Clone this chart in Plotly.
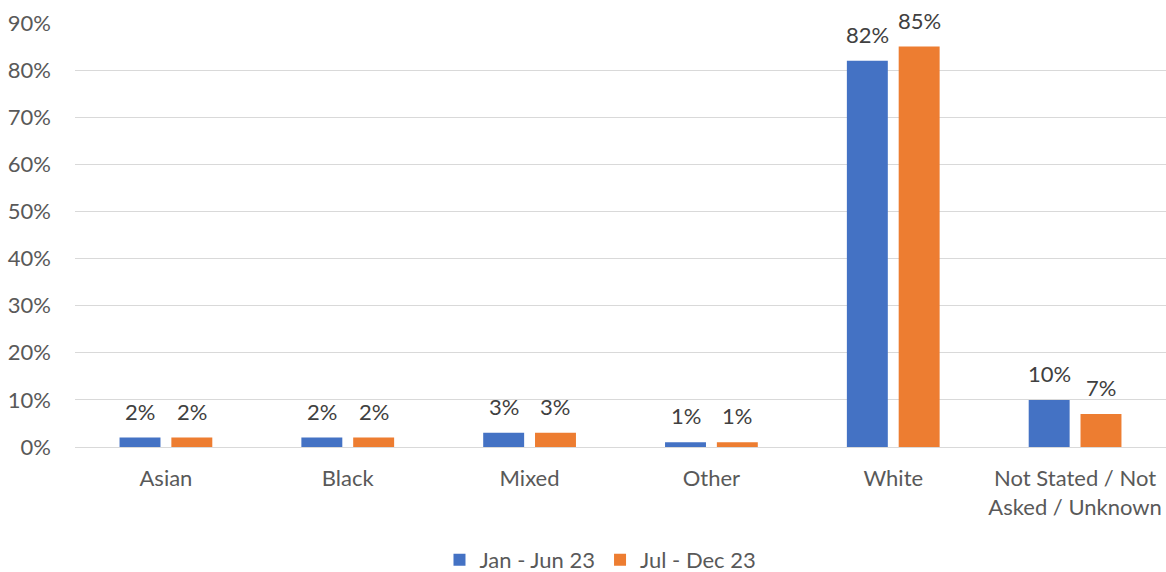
import plotly.graph_objects as go

categories = ["Asian", "Black", "Mixed", "Other", "White", "Not Stated / Not<br>Asked / Unknown"]
jan_jun_23 = [2, 2, 3, 1, 82, 10]
jul_dec_23 = [2, 2, 3, 1, 85, 7]
y_ticks = [0, 10, 20, 30, 40, 50, 60, 70, 80, 90]

FONT = "Lato, 'Open Sans', sans-serif"
BARGAP = 0.43
BARGROUPGAP = 0.21

series = [
    ("Jan - Jun 23", jan_jun_23, "#4472C4"),
    ("Jul - Dec 23", jul_dec_23, "#ED7D31"),
]

fig = go.Figure()
for name, vals, color in series:
    fig.add_trace(go.Bar(
        x=list(range(len(categories))), y=vals, name=name,
        marker=dict(color=color, line=dict(width=0)),
    ))

# value labels above each bar, placed at the bar centres of the grouped layout
slot = (1 - BARGAP) / len(series)
annotations = []
for si, (name, vals, color) in enumerate(series):
    offset = (si - (len(series) - 1) / 2) * slot
    for ci, v in enumerate(vals):
        annotations.append(dict(
            x=ci + offset, y=v, xref="x", yref="y",
            text=f"{v}%", showarrow=False,
            yanchor="bottom", yshift=11,
            font=dict(size=22, color="#404040", family=FONT),
        ))

fig.update_layout(
    width=1166, height=572,
    margin=dict(l=75, r=0, t=23, b=125),
    paper_bgcolor="white", plot_bgcolor="white",
    barmode="group", bargap=BARGAP, bargroupgap=BARGROUPGAP,
    font=dict(family=FONT, size=22, color="#595959"),
    showlegend=True,
    legend=dict(
        orientation="h", xref="container", yref="container",
        x=0.515, xanchor="center", y=0.021, yanchor="middle",
        font=dict(size=22, color="#595959"),
        traceorder="normal",
    ),
    annotations=annotations,
)
fig.update_xaxes(
    range=[-0.5, len(categories) - 0.5],
    tickvals=list(range(len(categories))), ticktext=categories,
    showgrid=False, showline=True, linecolor="#D9D9D9", linewidth=1,
    ticks="", ticklabelstandoff=12, zeroline=False,
    tickfont=dict(size=22, color="#595959"),
)
fig.update_yaxes(
    range=[0, 90], tickvals=y_ticks, ticktext=[f"{t}%" for t in y_ticks],
    showgrid=True, gridcolor="#D9D9D9", gridwidth=1,
    zeroline=False, showline=False, ticks="", ticklabelstandoff=23,
    tickfont=dict(size=22, color="#595959"),
)

fig.write_html("out.html")
